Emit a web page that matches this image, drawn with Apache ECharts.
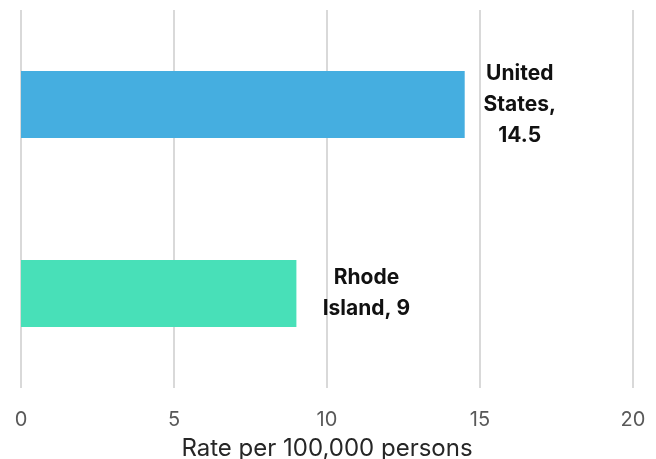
<!DOCTYPE html>
<html>
<head>
<meta charset="utf-8">
<script src="https://cdn.jsdelivr.net/npm/echarts@6/dist/echarts.min.js"></script>
<style>
  html, body { margin: 0; padding: 0; background: #fff; }
  #chart { width: 656px; height: 459px; }
</style>
</head>
<body>
<div id="chart"></div>
<script>
var categories = ['United States', 'Rhode Island'];
var rates = [14.5, 9];
var barColors = ['#45AEE0', '#48E0B8'];
var labelOffsets = [55, 70];
var fontFamily = 'Inter';

var myChart = echarts.init(document.getElementById('chart'));

var option = {
    animation: false,
    grid: {
        left: 21,
        right: 23,
        top: 10,
        bottom: 71,
        containLabel: false,
        outerBoundsMode: 'none'
    },
    xAxis: {
        type: 'value',
        min: 0,
        max: 20,
        interval: 5,
        name: 'Rate per 100,000 persons',
        nameLocation: 'middle',
        nameGap: 49,
        nameTextStyle: { fontSize: 24, color: '#262626', fontFamily: fontFamily },
        axisLine: { show: false },
        axisTick: { show: false },
        axisLabel: { fontSize: 20, color: '#595959', fontFamily: fontFamily, margin: 22 },
        splitLine: { lineStyle: { color: '#d9d9d9', width: 2 } }
    },
    yAxis: {
        type: 'category',
        inverse: true,
        data: categories,
        axisLine: { show: false },
        axisTick: { show: false },
        axisLabel: { show: false }
    },
    series: [{
        type: 'bar',
        barWidth: 67,
        data: rates.map(function (v, i) {
            return {
                value: v,
                itemStyle: { color: barColors[i] },
                label: { offset: [labelOffsets[i], 0] }
            };
        }),
        label: {
            show: true,
            position: 'right',
            distance: 0,
            align: 'center',
            fontSize: 21,
            fontWeight: 'bold',
            lineHeight: 31,
            color: '#111',
            fontFamily: fontFamily,
            formatter: function (p) {
                var sep = p.dataIndex === 0 ? '\n' : ' ';
                return p.name.replace(' ', '\n') + ',' + sep + p.value;
            }
        }
    }]
};

myChart.setOption(option);
</script>
</body>
</html>
